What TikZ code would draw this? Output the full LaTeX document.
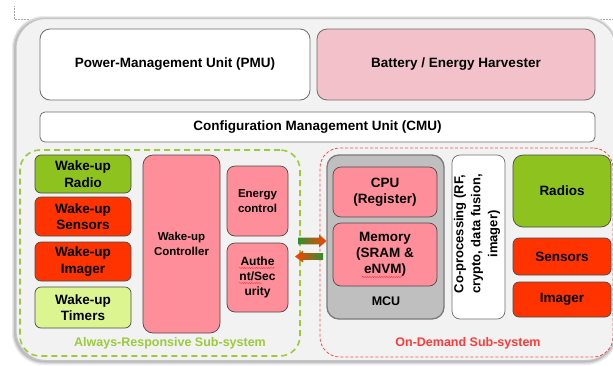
\documentclass[tikz,border=0pt]{standalone}
\usepackage{fontspec}
\setmainfont{Liberation Sans}
\usetikzlibrary{decorations.pathmorphing}
\definecolor{framefill}{HTML}{F2F2F2}
\definecolor{frameline}{HTML}{C4C4C4}
\definecolor{boxline}{HTML}{4A4A4A}
\definecolor{pinkbox}{HTML}{FF8E9B}
\definecolor{battpink}{HTML}{F2C1C9}
\definecolor{redbox}{HTML}{FF3300}
\definecolor{greenbox}{HTML}{8DC21F}
\definecolor{timerbox}{HTML}{DDF590}
\definecolor{mcugray}{HTML}{BFBFBF}
\definecolor{mculine}{HTML}{7A7A7A}
\definecolor{dashgreen}{HTML}{9BCB3B}
\definecolor{dashred}{HTML}{FF4B4B}
\definecolor{labred}{HTML}{FF3B3B}
\definecolor{arrgreen}{HTML}{2F8F2F}
\definecolor{arramber}{HTML}{F5C000}
\definecolor{arrred}{HTML}{FF4000}
\tikzset{
  bx/.style={draw=boxline, line width=0.7pt, inner sep=0pt, outer sep=0pt, align=center,
    font=\bfseries\fontsize{13.5}{16.5}\selectfont},
  topbox/.style={bx, draw=boxline!80, line width=0.8pt, rounded corners=10pt},
  smallbx/.style={bx, font=\bfseries\fontsize{11.5}{14.5}\selectfont},
  region/.style={inner sep=0pt, outer sep=0pt, rounded corners=20pt},
  squiggle/.style={draw=red!80, line width=0.3pt, decorate,
    decoration={snake, amplitude=0.7pt, segment length=2.4pt}},
  corner/.style={draw=gray!70, densely dotted, line width=0.5pt},
  sublabel/.style={font=\bfseries\fontsize{12.5}{15}\selectfont}
}
\begin{document}
\begin{tikzpicture}[x=1pt,y=-1pt]
\useasboundingbox (0,0) rectangle (613,365);
\fill[white] (0,0) rectangle (613,365);
% page corner marks
\draw[corner] (14,6) -- (14,19) -- (40,19);
\draw[corner] (592,19) -- (613,19);
% outer frame with soft shadow
\fill[black!8, rounded corners=32pt] (12,16) rectangle (618,365);
\fill[black!16, rounded corners=31pt] (13,17) rectangle (617,363.5);
\fill[black!26, rounded corners=30pt] (14,18.5) rectangle (616,362.5);
\node[region, rounded corners=30pt, fill=framefill, draw=frameline, line width=1pt,
  minimum width=600pt, minimum height=342pt] (frame) at (316,189.5) {};
% top row
\node[topbox, fill=white, minimum width=270pt, minimum height=71pt] (pmu) at (175,64.5)
  {Power-Management Unit (PMU)};
\node[topbox, fill=battpink, minimum width=278pt, minimum height=71pt] (batt) at (456,64.5)
  {Battery / Energy Harvester};
\node[topbox, fill=white, rounded corners=5pt, minimum width=555pt, minimum height=30pt] (cmu) at (317.5,127)
  {Configuration Management Unit (CMU)};
% sub-system regions
\node[region, draw=dashgreen, line width=1.6pt, dash pattern=on 6pt off 4pt,
  minimum width=280pt, minimum height=206pt] (ars) at (160,253) {};
\node[region, draw=dashred, line width=0.8pt, dash pattern=on 3pt off 2pt,
  minimum width=293pt, minimum height=209pt] (ods) at (466.5,252.5) {};
\node[sublabel, text=dashgreen] (arslbl) at (170,343) {Always-Responsive Sub-system};
\node[sublabel, text=labred] (odslbl) at (468,343) {On-Demand Sub-system};
% always-responsive blocks
\node[bx, fill=greenbox, rounded corners=6pt, minimum width=96pt, minimum height=38pt] (wradio) at (83,174) {Wake-up\\Radio};
\node[bx, fill=redbox, rounded corners=6pt, minimum width=96pt, minimum height=39pt] (wsens) at (83,216.5) {Wake-up\\Sensors};
\node[bx, fill=redbox, rounded corners=6pt, minimum width=96pt, minimum height=39pt] (wimg) at (83,261.5) {Wake-up\\Imager};
\node[bx, fill=timerbox, rounded corners=6pt, minimum width=96pt, minimum height=41pt] (wtim) at (83,307.5) {Wake-up\\Timers};
\node[smallbx, fill=pinkbox, rounded corners=10pt, minimum width=77pt, minimum height=178pt] (wctl) at (181.5,244) {Wake-up\\Controller};
\node[smallbx, fill=pinkbox, rounded corners=8pt, minimum width=61pt, minimum height=70pt] (ectl) at (257.5,201) {Energy\\control};
\node[smallbx, fill=pinkbox, rounded corners=8pt, minimum width=61pt, minimum height=69pt,
  font=\bfseries\fontsize{12}{15}\selectfont] (auth) at (257.5,277.5) {Authe\\nt/Sec\\urity};
% on-demand blocks
\node[bx, fill=mcugray, draw=mculine, line width=1.3pt, rounded corners=12pt, minimum width=117pt, minimum height=164pt] (mcu) at (385.5,237) {};
\node[bx, fill=pinkbox, rounded corners=8pt, minimum width=104pt, minimum height=50pt] (cpu) at (385,192) {CPU\\(Register)};
\node[bx, fill=pinkbox, rounded corners=8pt, minimum width=104pt, minimum height=63pt,
  font=\bfseries\fontsize{13.5}{16}\selectfont] (mem) at (385,254.5) {Memory\\(SRAM \&\\eNVM)};
\node[font=\bfseries\fontsize{12.5}{15}\selectfont] (mculbl) at (386,301) {MCU};
\node[bx, fill=white, draw=boxline!80, rounded corners=8pt, minimum width=53pt, minimum height=164pt] (cop) at (478.5,237) {};
\node[rotate=90, align=center, font=\bfseries\fontsize{13}{17}\selectfont] (coptxt) at (477,234)
  {Co-processing (RF,\\crypto, data fusion,\\imager)};
\node[bx, fill=greenbox, rounded corners=10pt, minimum width=98pt, minimum height=72pt] (radios) at (562,191) {Radios};
\node[bx, fill=redbox, rounded corners=6pt, minimum width=98pt, minimum height=37pt] (sens) at (562,256.5) {Sensors};
\node[bx, fill=redbox, rounded corners=6pt, minimum width=98pt, minimum height=35pt] (img) at (562,299.5) {Imager};
% spell-check marks
\draw[squiggle] (239,268) -- (275,268);
\draw[squiggle] (239,283) -- (262,283);
\draw[squiggle] (362,277) -- (402,277);
% gradient arrows between the sub-systems
\shade[left color=arrgreen, middle color=arramber, right color=arrred]
  (298,237.7) -- (319,237.7) -- (319,234.5) -- (326.5,241) -- (319,247.5) -- (319,244.3) -- (298,244.3) -- cycle;
\shade[left color=arrred, middle color=arramber, right color=arrgreen]
  (295,256.5) -- (303,250.5) -- (303,253.2) -- (323,253.2) -- (323,259.8) -- (303,259.8) -- (303,262.5) -- cycle;
\end{tikzpicture}
\end{document}
